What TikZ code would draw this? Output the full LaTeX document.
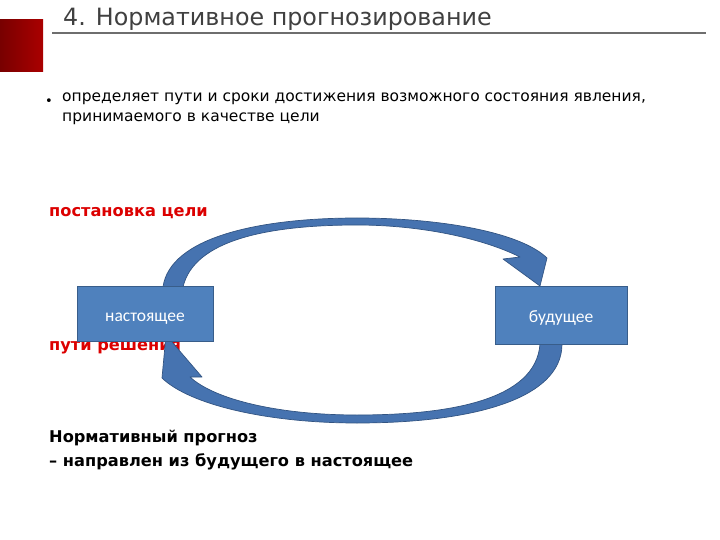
\documentclass[tikz,border=0pt]{standalone}
\usepackage{fontspec}
\setmainfont{DejaVu Sans}
\newfontfamily\boxfont{Carlito}
\definecolor{boxfill}{RGB}{79,129,189}
\definecolor{boxline}{RGB}{56,93,138}
\definecolor{arrfill}{RGB}{70,115,176}
\definecolor{arrline}{RGB}{50,84,130}
\definecolor{titlegray}{RGB}{64,64,64}
\definecolor{rulegray}{RGB}{110,110,110}
\definecolor{redtxt}{RGB}{220,0,0}
\definecolor{sqdark}{RGB}{120,0,0}
\definecolor{sqlight}{RGB}{170,0,0}
\begin{document}
\begin{tikzpicture}[x=1pt,y=-1pt,
  blk/.style={draw=boxline,line width=1pt,fill=boxfill,text height=18pt,text depth=3pt,
    minimum width=136pt,minimum height=55pt,inner sep=0pt,text=white,font=\boxfont\fontsize{17.5}{20}\selectfont},
  arr/.style={draw=arrline,line width=0.7pt,fill=arrfill,line join=round},
  lbl/.style={anchor=base west,inner sep=0pt},
  boldtxt/.style={font=\bfseries\fontsize{16.2}{18}\selectfont}]
\useasboundingbox (0,0) rectangle (720,540);
\fill[white] (0,0) rectangle (720,540);
% red square
\shade[left color=sqdark,right color=sqlight] (0,20) rectangle (43,72);
% title
\node[lbl,text=titlegray,font=\fontsize{23.8}{27}\selectfont] (title) at (63,26) {4. Нормативное прогнозирование};
\coordinate (ul1) at (52,33);
\coordinate (ul2) at (706,33);
\draw[line width=1.5pt,rulegray] (ul1) -- (ul2);
% bullet
\node[lbl,font=\fontsize{13}{16}\selectfont] (bul) at (45,106) {•};
\node[lbl,font=\fontsize{15.5}{20}\selectfont,align=left,anchor=north west] (txt) at (62,93) {определяет пути и сроки достижения возможного состояния явления,\\принимаемого в качестве цели};
% red labels
\node[lbl,text=redtxt,boldtxt] (goal) at (49,216) {постановка цели};
\node[lbl,text=redtxt,boldtxt] (ways) at (49,350) {пути решения};
% bottom text
\node[lbl,boldtxt] (np1) at (49,442) {Нормативный прогноз};
\node[lbl,boldtxt] (np2) at (49,466) {– направлен из будущего в настоящее};
% top arrow
\draw[arr] (163,287) .. controls (170,237) and (260,218) .. (357,218)
  .. controls (440,218) and (520,232) .. (547,258)
  -- (540,286) -- (503,259) -- (520,257)
  .. controls (482,238) and (420,225) .. (357,225)
  .. controls (268,225) and (194,240) .. (183,287) -- cycle;
% bottom arrow
\draw[arr] (562,344) .. controls (562,400) and (470,423) .. (357,423)
  .. controls (268,423) and (190,405) .. (162,378)
  -- (166,335) -- (202,377) -- (190,377)
  .. controls (215,400) and (280,415) .. (357,415)
  .. controls (450,415) and (536,400) .. (540,344) -- cycle;
% boxes
\node[blk] (now) at (145,314) {настоящее};
\node[blk,minimum width=132pt,minimum height=58pt] (fut) at (561,315) {будущее};
\end{tikzpicture}
\end{document}
